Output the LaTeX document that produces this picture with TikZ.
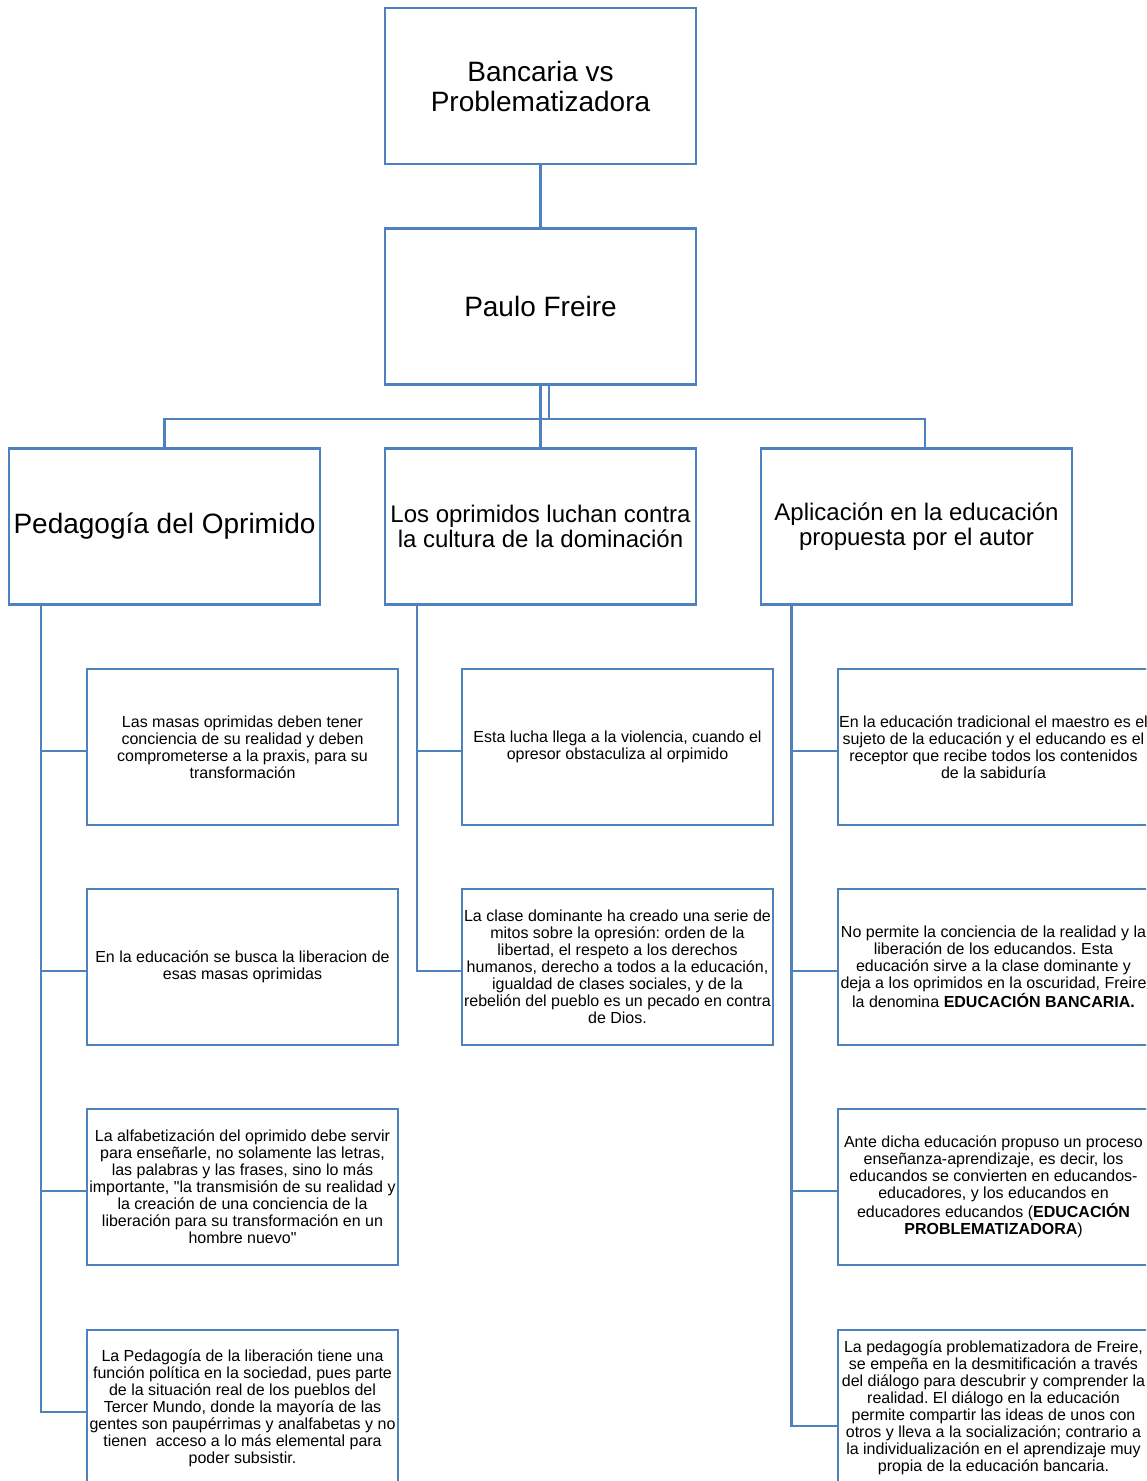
\documentclass[tikz,border=0pt]{standalone}
\usepackage{fontspec}
\setmainfont{Liberation Sans}
\usepackage{tikz}
\definecolor{azul}{RGB}{79,129,189}
\frenchspacing

\begin{document}
\begin{tikzpicture}[x=0.75pt,y=-0.75pt,
  linea/.style={draw=azul,line width=2pt},
  bigbox/.style={linea,minimum width=233.25pt,minimum height=117pt,inner sep=0pt,align=center,font=\fontsize{21}{22.5}\selectfont},
  midbox/.style={bigbox,font=\fontsize{18}{18.75}\selectfont},
  smallbox/.style={linea,minimum width=233.25pt,minimum height=117pt,inner sep=0pt,align=center,font=\fontsize{12}{12.75}\selectfont}]
  \useasboundingbox (0,0) rectangle (1146,1481);
  \clip (0,0) rectangle (1146,1481);

  \node[bigbox] (tema) at (540.5,86) {Bancaria vs\\Problematizadora};
  \node[bigbox] (freire) at (540.5,306.5) {Paulo Freire};
  \node[bigbox] (pedag) at (164.5,526.5) {Pedagogía del Oprimido};
  \node[midbox] (lucha) at (540.5,526.5) {Los oprimidos luchan contra\\la cultura de la dominación};
  \node[midbox] (aplic) at (916.5,526.5) {Aplicación en la educación\\propuesta por el autor};

  \node[smallbox] (p1) at (242.5,747) {Las masas oprimidas deben tener\\conciencia de su realidad y deben\\comprometerse a la praxis, para su\\transformación};
  \node[smallbox] (p2) at (242.5,967) {En la educación se busca la liberacion de\\esas masas oprimidas};
  \node[smallbox] (p3) at (242.5,1187) {La alfabetización del oprimido debe servir\\para enseñarle, no solamente las letras,\\las palabras y las frases, sino lo más\\importante, \textquotedbl la transmisión de su realidad y\\la creación de una conciencia de la\\liberación para su transformación en un\\hombre nuevo\textquotedbl};
  \node[smallbox] (p4) at (242.5,1408) {La Pedagogía de la liberación tiene una\\función política en la sociedad, pues parte\\de la situación real de los pueblos del\\Tercer Mundo, donde la mayoría de las\\gentes son paupérrimas y analfabetas y no\\tienen\ \ acceso a lo más elemental para\\poder subsistir.};

  \node[smallbox] (l1) at (617.5,747) {Esta lucha llega a la violencia, cuando el\\opresor obstaculiza al orpimido};
  \node[smallbox] (l2) at (617.5,967) {La clase dominante ha creado una serie de\\mitos sobre la opresión: orden de la\\libertad, el respeto a los derechos\\humanos, derecho a todos a la educación,\\igualdad de clases sociales, y de la\\rebelión del pueblo es un pecado en contra\\de Dios.};

  \node[smallbox] (a1) at (993.5,747) {En la educación tradicional el maestro es el\\sujeto de la educación y el educando es el\\receptor que recibe todos los contenidos\\de la sabiduría};
  \node[smallbox] (a2) at (993.5,967) {No permite la conciencia de la realidad y la\\liberación de los educandos. Esta\\educación sirve a la clase dominante y\\deja a los oprimidos en la oscuridad, Freire\\la denomina \textbf{EDUCACIÓN BANCARIA.}};
  \node[smallbox] (a3) at (993.5,1187) {Ante dicha educación propuso un proceso\\enseñanza-aprendizaje, es decir, los\\educandos se convierten en educandos-\\educadores, y los educandos en\\educadores educandos (\textbf{EDUCACIÓN}\\\textbf{PROBLEMATIZADORA})};
  \node[smallbox] (a4) at (993.5,1408) {La pedagogía problematizadora de Freire,\\se empeña en la desmitificación a través\\del diálogo para descubrir y comprender la\\realidad. El diálogo en la educación\\permite compartir las ideas de unos con\\otros y lleva a la socialización; contrario a\\la individualización en el aprendizaje muy\\propia de la educación bancaria.};

  \draw[linea] (tema) -- (freire);
  \draw[linea] (freire.south) -- (lucha.north);
  \draw[linea] ([xshift=6.4pt]freire.south) -- ++(0,33) coordinate (barra) -| (pedag.north);
  \draw[linea] (barra) -| ([xshift=6.4pt]aplic.north);

  \foreach \hijo in {p1,p2,p3,p4}
    \draw[linea] ([xshift=25pt]pedag.south west) |- ([yshift=-3pt]\hijo.west);
  \foreach \hijo in {l1,l2}
    \draw[linea] ([xshift=25pt]lucha.south west) |- ([yshift=-3pt]\hijo.west);
  \foreach \hijo in {a1,a2,a3}
    \draw[linea] ([xshift=24pt]aplic.south west) |- ([yshift=-3pt]\hijo.west);
  \draw[linea] ([xshift=24pt]aplic.south west) |- ([yshift=-13.5pt]a4.west);

\end{tikzpicture}
\end{document}
